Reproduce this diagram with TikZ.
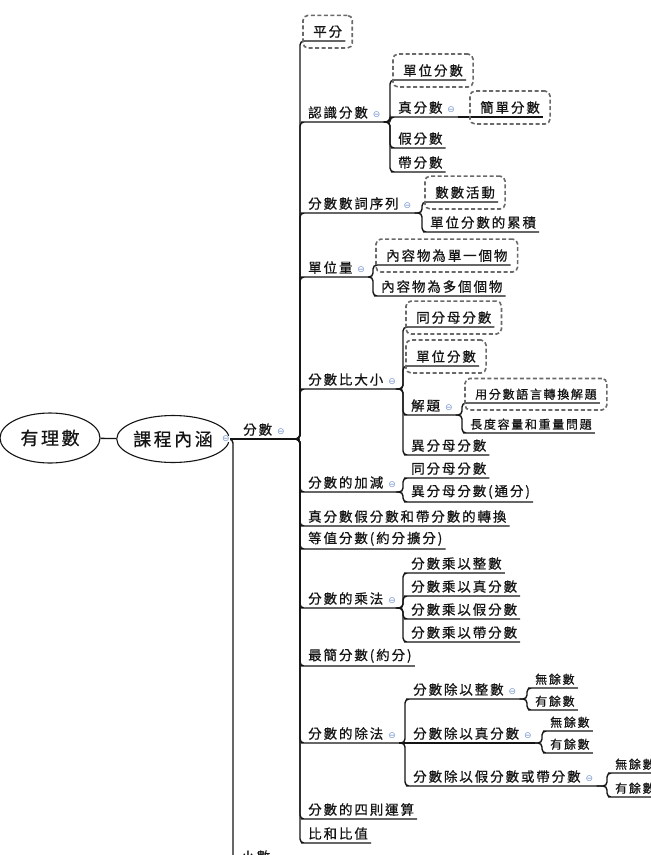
\documentclass[tikz,border=0pt]{standalone}
\usepackage{fontspec}
\usepackage{tikz}
\usetikzlibrary{shapes.geometric, fit}
\newfontfamily\cjkfont{Noto Sans CJK TC}[LetterSpace=14, FakeBold=0.6]
\newfontfamily\symfont{DejaVu Sans}
\definecolor{inkdark}{RGB}{20, 20, 20}
\definecolor{boxgray}{RGB}{105, 105, 105}
\definecolor{foldblue}{RGB}{120, 150, 205}
\newcommand{\fold}{\hspace{5pt}{\symfont\fontsize{9}{9}\selectfont\color{foldblue}⊖}}
\newcommand{\branch}[3][5pt]{\draw[branch] (#2) -| ([xshift=-#1]#3.south west) -- (#3.south west) -- (#3.south east);}
\newcommand{\straight}[2]{\draw[branch] (#1) -- (#2.south west) -- (#2.south east);}

\begin{document}
\begin{tikzpicture}[x=1pt, y=-1pt,
    topic/.style={anchor=south west, inner xsep=3pt, inner ysep=3pt, text=inkdark, font=\cjkfont\fontsize{13.5}{15}\selectfont},
    leaf/.style={topic, font=\cjkfont\fontsize{12}{13}\selectfont},
    bubble/.style={ellipse, draw=inkdark, line width=1.1pt, inner sep=0pt, text=inkdark, font=\cjkfont\fontsize{18}{20}\selectfont},
    branch/.style={draw=inkdark, line width=1.4pt, rounded corners=4pt},
    dashbox/.style={draw=boxgray, line width=1.6pt, dash pattern=on 4pt off 2.5pt, rounded corners=5pt, inner xsep=7pt, inner ysep=7pt},
    foldicon/.style={font=\symfont\fontsize{9}{9}\selectfont, text=foldblue, fill=white, inner sep=0pt}]
  \useasboundingbox (0,0) rectangle (651,855);
  \fill[white] (0,0) rectangle (651,855);
  \clip (0,0) rectangle (651,855);

  % Root and course (ellipses)
  \node[bubble, minimum width=100pt, minimum height=50pt] (rational) at (50,438) {有理數};
  \node[bubble, minimum width=95pt, minimum height=47pt] (course) at (173,439) {課程內涵};
  \draw[branch] (rational) -- (course);

  % First level
  \node[topic] (frac) at (240,439) {分數\fold};
  \node[topic] (small) at (238,866) {小數};
  \straight{course.east}{frac}
  \branch{course.east}{small}
  \node[foldicon] (coursefold) at (226,439) {⊖};

  % Topics under the fraction node
  \node[topic] (half) at (310,41) {平分};
  \node[topic] (know) at (305,122) {認識分數\fold};
  \node[topic] (seq) at (305,213) {分數數詞序列\fold};
  \node[topic] (unit) at (305,277) {單位量\fold};
  \node[topic] (cmp) at (305,389) {分數比大小\fold};
  \node[topic] (addsub) at (305,492) {分數的加減\fold};
  \node[topic] (conv) at (305,526) {真分數假分數和帶分數的轉換};
  \node[topic] (equiv) at (305,549) {等值分數(約分擴分)};
  \node[topic] (mul) at (305,608) {分數的乘法\fold};
  \node[topic] (simp) at (305,666) {最簡分數(約分)};
  \node[topic] (div) at (305,743) {分數的除法\fold};
  \node[topic] (four) at (305,819) {分數的四則運算};
  \node[topic] (ratio) at (305,843) {比和比值};
  \branch[10pt]{frac.south east}{half}
  \foreach \n in {know, seq, unit, cmp, addsub, conv, equiv, mul, simp, div, four, ratio}
    {\branch{frac.south east}{\n}}

  % Knowing fractions
  \node[topic] (knUnit) at (400,80) {單位分數};
  \node[topic] (knProper) at (395,117) {真分數\fold};
  \node[topic] (knSimple) at (477,117) {簡單分數};
  \node[topic] (knImproper) at (395,148) {假分數};
  \node[topic] (knMixed) at (395,172) {帶分數};
  \branch[10pt]{know.south east}{knUnit}
  \foreach \n in {knProper, knImproper, knMixed}
    {\branch{know.south east}{\n}}
  \straight{knProper.south east}{knSimple}

  % Counting sequence
  \node[topic] (seqCount) at (432,202) {數數活動};
  \node[topic] (seqAccum) at (427,232) {單位分數的累積};
  \branch[10pt]{seq.south east}{seqCount}
  \branch{seq.south east}{seqAccum}

  % Unit quantity
  \node[topic] (unitOne) at (383,265) {內容物為單一個物};
  \node[topic] (unitMany) at (378,296) {內容物為多個個物};
  \branch[10pt]{unit.south east}{unitOne}
  \branch{unit.south east}{unitMany}

  % Comparing fractions
  \node[topic] (cmpSame) at (413,327) {同分母分數};
  \node[topic] (cmpUnit) at (413,366) {單位分數};
  \node[topic] (cmpSolve) at (408,415) {解題\fold};
  \node[topic] (cmpDiff) at (408,455) {異分母分數};
  \node[leaf] (solveLang) at (472,403) {用分數語言轉換解題};
  \node[leaf] (solveMeasure) at (467,433) {長度容量和重量問題};
  \branch[10pt]{cmp.south east}{cmpSame}
  \branch[10pt]{cmp.south east}{cmpUnit}
  \branch{cmp.south east}{cmpSolve}
  \branch{cmp.south east}{cmpDiff}
  \branch[10pt]{cmpSolve.south east}{solveLang}
  \branch{cmpSolve.south east}{solveMeasure}

  % Adding and subtracting
  \node[topic] (asSame) at (408,478) {同分母分數};
  \node[topic] (asDiff) at (408,502) {異分母分數(通分)};
  \branch{addsub.south east}{asSame}
  \branch{addsub.south east}{asDiff}

  % Multiplying
  \node[topic] (mulWhole) at (408,573) {分數乘以整數};
  \node[topic] (mulProper) at (408,596) {分數乘以真分數};
  \node[topic] (mulImproper) at (408,619) {分數乘以假分數};
  \node[topic] (mulMixed) at (408,642) {分數乘以帶分數};
  \foreach \n in {mulWhole, mulProper, mulImproper, mulMixed}
    {\branch{mul.south east}{\n}}

  % Dividing
  \node[topic] (divWhole) at (410,699) {分數除以整數\fold};
  \node[topic] (divProper) at (410,743) {分數除以真分數\fold};
  \node[topic] (divMixed) at (410,786) {分數除以假分數或帶分數\fold};
  \branch{div.south east}{divWhole}
  \straight{div.south east}{divProper}
  \branch{div.south east}{divMixed}
  \node[leaf] (dwNo) at (532,688) {無餘數};
  \node[leaf] (dwRem) at (532,710) {有餘數};
  \node[leaf] (dpNo) at (547,731) {無餘數};
  \node[leaf] (dpRem) at (547,753) {有餘數};
  \node[leaf] (dmNo) at (612,773) {無餘數};
  \node[leaf] (dmRem) at (612,797) {有餘數};
  \branch{divWhole.south east}{dwNo}
  \branch{divWhole.south east}{dwRem}
  \branch{divProper.south east}{dpNo}
  \branch{divProper.south east}{dpRem}
  \branch{divMixed.south east}{dmNo}
  \branch{divMixed.south east}{dmRem}

  % Dashed frames
  \foreach \b in {half, knUnit, knSimple, seqCount, unitOne, cmpSame, cmpUnit, solveLang}
    {\node[dashbox, fit=(\b)] (\b-box) {};}
\end{tikzpicture}
\end{document}
